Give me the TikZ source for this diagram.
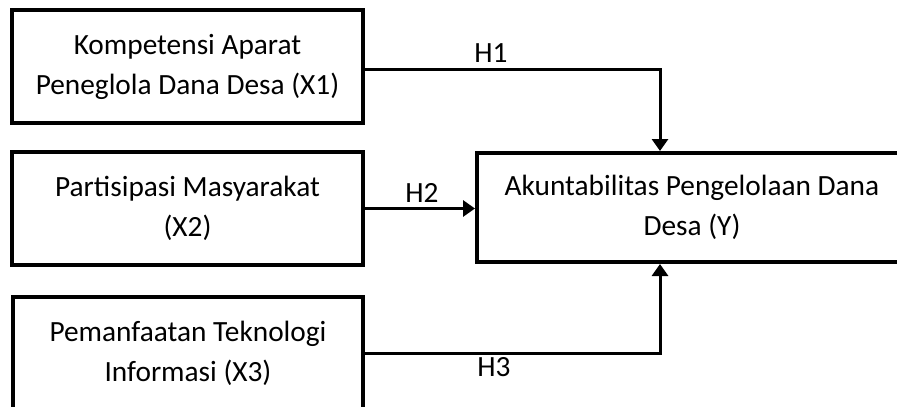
\documentclass[tikz,border=0pt]{standalone}
\usepackage{fontspec}
\setmainfont{Carlito}
\usetikzlibrary{arrows.meta, positioning}
\tikzstyle{block} = [rectangle, draw=black, line width=3pt, minimum width=263pt, minimum height=85pt, inner sep=0pt, align=center, font=\fontsize{22}{30}\selectfont]
\tikzstyle{arrow} = [line width=2.25pt, -{Triangle[length=9pt, width=12pt]}]
\tikzstyle{hlabel} = [inner sep=0pt, font=\fontsize{22}{26}\selectfont]

\begin{document}
\begin{tikzpicture}[x=0.75pt, y=-0.75pt]
    \clip (0,0) rectangle (897,407);
    \node (x1) [block] at (187.5,66.5) {Kompetensi Aparat\\Peneglola Dana Desa (X1)};
    \node (x2) [block] at (187.5,208.5) {Partisipasi Masyarakat\\(X2)};
    \node (x3) [block] at (188,353.5) {Pemanfaatan Teknologi\\Informasi (X3)};
    \node (y) [block, minimum width=322.5pt, minimum height=81.75pt] at (692,207.5) {Akuntabilitas Pengelolaan Dana\\Desa (Y)};

    \coordinate (h1end) at ([xshift=-24pt]y.north);
    \coordinate (h3end) at ([xshift=-24pt]y.south);

    \draw [arrow] ([yshift=-2.6pt]x1.east) -| (h1end);
    \draw [arrow] (x2.east) -- (x2.east -| y.west);
    \draw [arrow] (x3.east) -| (h3end);

    \node (h1) [hlabel] at (491,53) {H1};
    \node (h2) [hlabel] at (422,193) {H2};
    \node (h3) [hlabel] at (494,367) {H3};
\end{tikzpicture}
\end{document}
